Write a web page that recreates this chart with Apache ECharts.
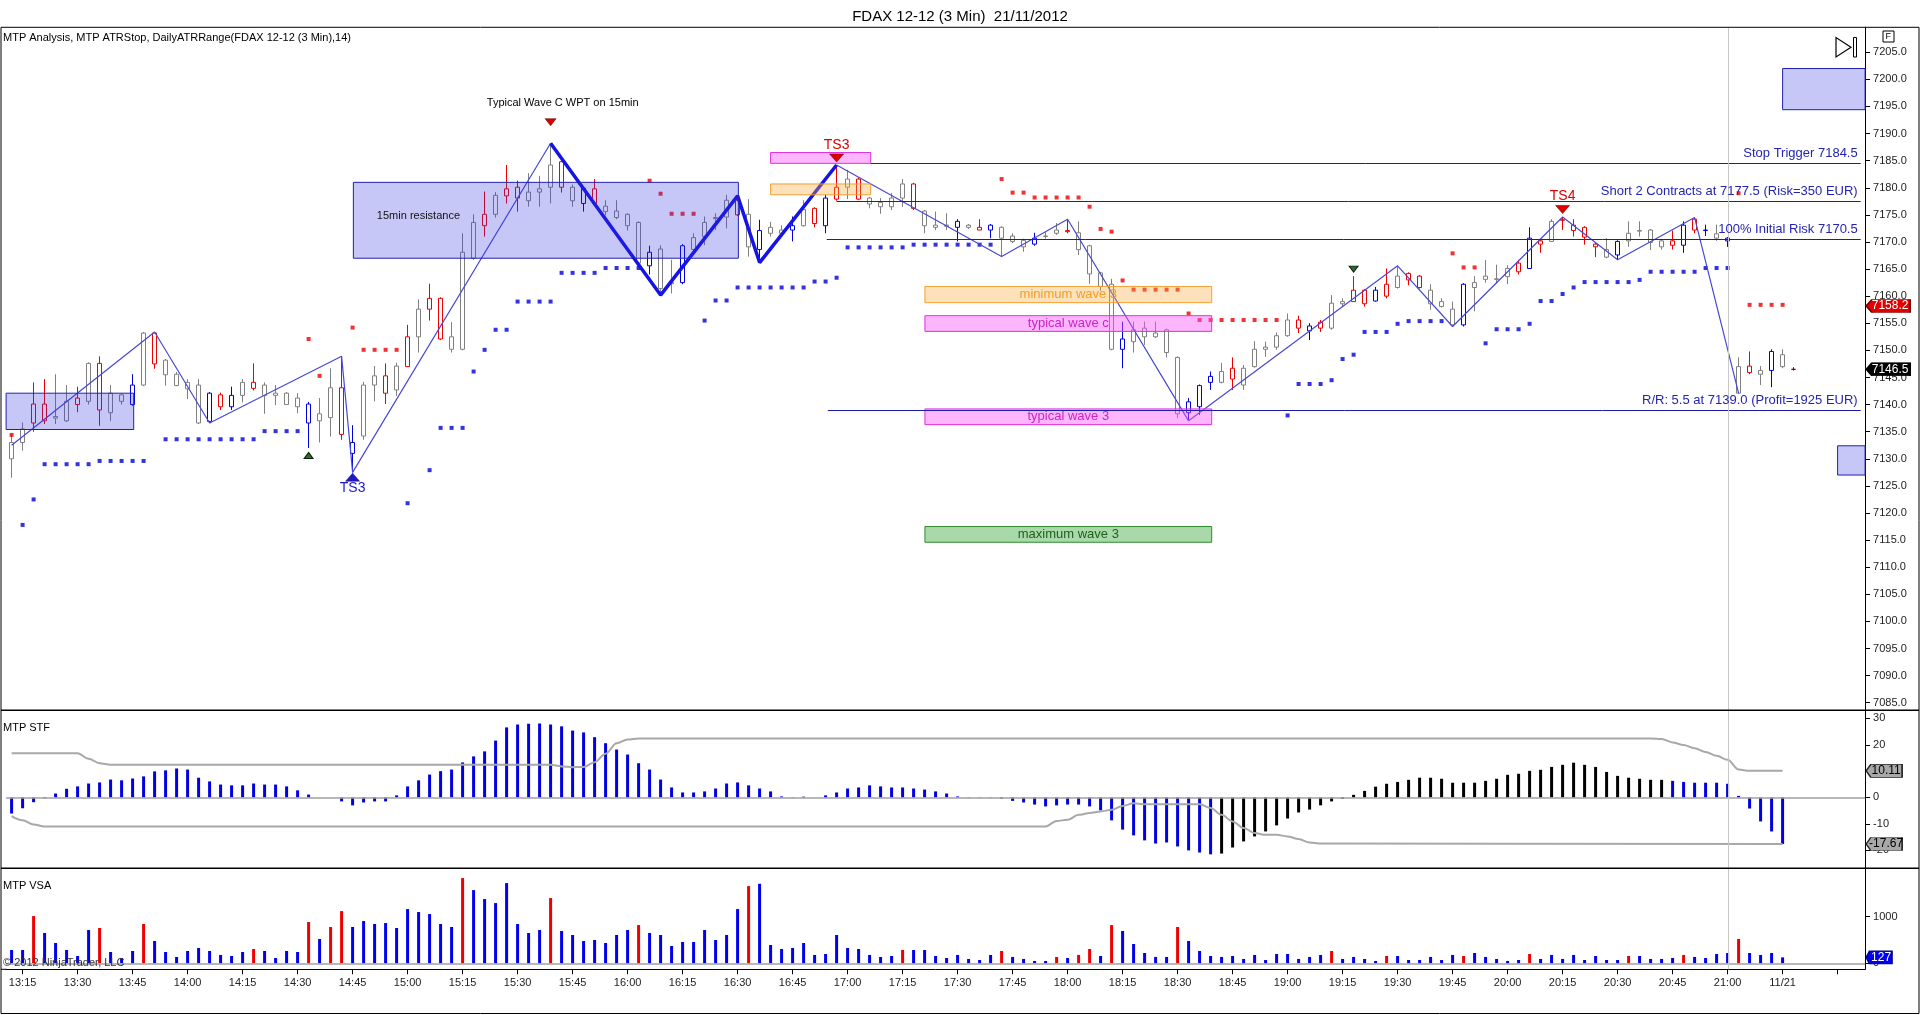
<!DOCTYPE html>
<html>
<head>
<meta charset="utf-8">
<title>FDAX 12-12 (3 Min) 21/11/2012</title>
<script src="https://cdn.jsdelivr.net/npm/echarts@6.0.0/dist/echarts.min.js"></script>
<style>
html,body{margin:0;padding:0;background:#fff;}
#chart{width:1920px;height:1015px;}
</style>
</head>
<body>
<div id="chart"></div>
<script>
// 3 min bars starting 13:12, axis runs a few empty slots past the last bar
var firstMinute = 13 * 60 + 12;
var slotCount = 169;

var opens = [
7130,7133,7136.6,7140.1,7137.5,7137,7141.2,7140.6,7147.6,7138.5,
7141.8,7140,7143.6,7153.2,7148.2,7145.6,7144.1,7143.6,7136.9,7141.8,
7139.6,7141.7,7144.1,7143.6,7141.7,7142.1,7141.2,7140.1,7137,7137.6,
7143.1,7131,7134.2,7143.6,7145.3,7142.7,7147,7152.5,7157.6,7159.6,
7152.5,7150.2,7167,7173,7175.1,7178.5,7180.1,7177.6,7179.2,7180.1,
7184.8,7180.1,7177.1,7179.8,7176.6,7175.7,7175.1,7173.6,7165.6,7168.7,
7162.3,7162.5,7168.6,7171,7174.3,7174.6,7177.7,7175.1,7168.6,7172.7,
7172.2,7172.2,7173,7176.2,7173,7177.9,7180.1,7181.6,7178.1,7177.3,
7176.5,7178.1,7180.7,7175.7,7173.1,7172.9,7172.7,7173.1,7172.7,7172.2,
7172.7,7171.1,7170.3,7169.6,7171.0,7171.6,7172.1,7171.7,7169.3,7164.3,
7162.2,7150.2,7151.6,7154.1,7152.5,7153.8,7148.7,7138.5,7139.6,7144.1,
7144.1,7146.7,7143.6,7147,7150.2,7150.6,7152.7,7155.6,7153.6,7155.2,
7154.1,7158.6,7159,7161.1,7159.1,7160,7161.6,7164.2,7163.7,7161.1,
7159,7157.6,7154.7,7161.6,7163.1,7163.1,7163.6,7166.1,7165.1,7170.2,
7170.1,7174.1,7173.1,7172.7,7169.6,7168.6,7167.6,7170.2,7172.0,7172.2,
7169.1,7170.2,7169.4,7174.2,7172.1,7171.5,7170.2,7142.1,7147.1,7146.3,
7146.3,7149.2,7146.5
];
var closes = [
7133,7135.5,7140.1,7137,7137.8,7140.6,7140,7147.6,7139,7142.1,
7140.6,7143.6,7153.2,7147.5,7145.5,7143.5,7142.9,7136.6,7142.1,7139.6,
7141.7,7144.1,7143,7141.7,7142.1,7140,7139.6,7136.6,7138.3,7143.1,
7134.5,7133,7143.6,7145.3,7142.1,7147.1,7152.5,7157.6,7159.6,7152.1,
7150.2,7168.1,7173.6,7175.1,7178.6,7179.8,7178.1,7179.2,7179.8,7184.2,
7180.1,7177.6,7179.9,7177.1,7175.6,7174.5,7173,7166.1,7168.1,7161.4,
7162.5,7169.3,7170.8,7173.6,7174.5,7177.7,7175,7169.1,7172.1,7171.6,
7171.6,7173,7176,7173.4,7178.1,7180.1,7181.6,7177.9,7177,7176.5,
7178.1,7180.7,7176.2,7173,7172.7,7173.1,7173.8,7172.7,7172.2,7173.1,
7170.7,7170.1,7169.1,7170.7,7171.1,7172.2,7171.9,7168.6,7164.1,7161.8,
7150.2,7152.1,7153.8,7152.5,7153.2,7149.6,7138.3,7140.5,7143.5,7145.2,
7146.1,7144.7,7146.7,7150.2,7150.6,7152.7,7155.6,7154.1,7154.5,7154.1,
7158.7,7159,7161.1,7158.6,7161.1,7162.2,7163.7,7163,7161.6,7158.6,
7158.1,7154.7,7162.2,7162.5,7163.7,7163.2,7165.1,7164.5,7170.7,7169.6,
7173.8,7174.0,7172.1,7170.9,7169.1,7167.2,7170.1,7171.6,7172.1,7169.9,
7170.2,7169.4,7173.1,7172.2,7172.2,7170.7,7170.7,7147,7145.9,7145.6,
7149.8,7147,7146.5
];
var lows = [
7126.5,7131.5,7135,7136.4,7136.4,7136.8,7138.6,7140,7136.1,7137,
7140,7139.8,7143.4,7146.6,7143.5,7143.4,7141,7136.4,7136.6,7139,
7139,7140.4,7142.6,7138.3,7139.9,7140,7138.4,7132,7133,7134.1,
7133.5,7127.5,7133.5,7140.6,7140.1,7141.6,7147,7149.6,7155.5,7151.9,
7149.6,7150,7166.7,7171,7174.5,7177.1,7175.6,7176.5,7176.5,7177.1,
7179.1,7176.5,7175.6,7176.8,7174.9,7174.2,7172.1,7165.5,7164,7160.2,
7160.5,7162.2,7168,7169.4,7172.2,7172.5,7174.8,7167.3,7166.2,7171,
7171,7170.1,7172.8,7172.7,7171.6,7177.6,7177.9,7177.7,7176.2,7175.2,
7175.9,7176.5,7175.9,7171.6,7172.2,7172.2,7170.1,7172.4,7172.2,7170.7,
7167.3,7169.8,7168.2,7169.3,7170.6,7171.3,7171.6,7167.6,7162.3,7161,
7150,7146.7,7149.6,7151,7152.3,7148.7,7137.5,7137.0,7138.1,7142.7,
7143.9,7142.7,7142.7,7146.8,7148.8,7150.1,7152.5,7153.2,7151.9,7153.4,
7153.8,7158,7159,7158.1,7159,7159.6,7161.4,7162,7161.4,7157.5,
7157.9,7154.4,7154.4,7157.2,7162.5,7162.3,7162.2,7164,7165,7168,
7170,7172.2,7171,7169.5,7167.2,7167,7166.7,7169.1,7171,7168.5,
7168.6,7168.6,7168,7171.6,7171.1,7170.2,7169.1,7142,7145.6,7143.6,
7143.2,7146.7,7146.3
];
var highs = [
7134.5,7136.7,7144.1,7144.7,7145.6,7143.6,7143.3,7147.8,7148.9,7143.6,
7142,7145.6,7153.4,7153.4,7148.4,7146,7144.7,7144.7,7142.3,7142.2,
7143.3,7144.7,7147.6,7144.1,7143.6,7142.3,7142.1,7140.5,7141.2,7146.7,
7148.9,7136.2,7144.2,7147.1,7147.6,7147.7,7154.7,7159.4,7162.3,7159.8,
7155.2,7171.6,7175.1,7179.3,7179.2,7184.2,7181.3,7182.7,7182.2,7188.2,
7185,7180.6,7180.1,7181.6,7177.7,7177.7,7175.3,7173.8,7169.3,7169.4,
7166.7,7169.6,7171.6,7174.7,7175.3,7178.7,7178.5,7177.9,7174.1,7173.7,
7173.1,7174.7,7177.7,7176.4,7178.7,7184.2,7183.3,7181.8,7178.3,7178.1,
7179,7181.6,7180.9,7175.9,7175.6,7175.3,7174.2,7173.3,7174.2,7173.3,
7172.9,7171.6,7170.6,7171.7,7171.8,7173.5,7174.2,7173.8,7169.5,7164.5,
7163.2,7155.3,7155.3,7155.3,7155.3,7154,7148.9,7141.2,7143.7,7146.1,
7147.7,7148.7,7147.3,7151.7,7151.6,7153.3,7156.8,7156.4,7155,7155.6,
7160.2,7159.6,7163.7,7161.3,7161.7,7165.1,7165.6,7164.4,7163.9,7162.2,
7159.6,7159,7162.4,7163.7,7166.7,7165.8,7165.7,7166.7,7172.7,7170.5,
7174.2,7174.6,7174.2,7172.9,7169.8,7170.7,7170.3,7173.8,7173.8,7172.4,
7170.6,7172.1,7173.8,7174.5,7173.2,7173.2,7170.9,7148.7,7149.8,7147.1,
7150.2,7150.2,7146.9
];
// g gray, r red, b blue, k last tick
var candleColors = (
  'ggrrggrgrg' + 'gbgrggggbr' + 'bgrggggbgg' + 'rbggrgrgrr' + 'gggrgrrggg' +
  'rgbrggggbg' + 'gbggggrgbg' + 'gbgrbrgrgg' + 'ggrgggbgrb' + 'gggbggrggg' +
  'gbgggggbbb' + 'grgggggrbr' + 'ggrrbrgrrg' + 'ggbggggrbr' + 'grrrrgbggg' +
  'grbrbgbgrg' + 'bgk').split('');

// ATR stop dots [bar, price]
var stopRed = [
[0,7134.4],[27,7152.1],[28,7145.3],[31,7154.2],[32,7150.1],[33,7150.1],[34,7150.1],[35,7150.1],
[58,7181.3],[59,7178.9],[60,7175.2],[61,7175.2],[62,7175.2],
[90,7181.6],[91,7179.1],[92,7179.1],[93,7178.2],[94,7178.2],[95,7178.2],[96,7178.2],[97,7178.2],
[98,7176.5],[99,7172.4],[100,7171.9],[101,7162.9],[102,7161.2],[103,7161.2],[104,7161.2],[105,7161.2],[106,7161.2],
[107,7156.8],[108,7155.6],[109,7155.6],[110,7155.6],[111,7155.6],[112,7155.6],[113,7155.6],[114,7155.6],[115,7155.6],
[131,7167.9],[132,7165.3],[133,7165.3],[157,7179],[158,7158.4],[159,7158.4],[160,7158.4],[161,7158.4]
];
var stopBlue = [
[1,7117.8],[2,7122.5],[3,7129],[4,7129],[5,7129],[6,7129],[7,7129],[8,7129.6],[9,7129.6],[10,7129.6],[11,7129.6],[12,7129.6],
[14,7133.6],[15,7133.6],[16,7133.6],[17,7133.6],[18,7133.6],[19,7133.6],[20,7133.6],[21,7133.6],[22,7133.6],
[23,7135.1],[24,7135.1],[25,7135.1],[26,7135.1],[36,7121.8],[38,7127.9],[39,7135.7],[40,7135.7],[41,7135.7],
[42,7146.1],[43,7150.1],[44,7153.8],[45,7153.8],[46,7159],[47,7159],[48,7159],[49,7159],
[50,7164.3],[51,7164.3],[52,7164.3],[53,7164.3],[54,7165.2],[55,7165.2],[56,7165.2],[57,7165.2],
[63,7155.5],[64,7159.2],[65,7159.2],[66,7161.6],[67,7161.6],[68,7161.6],[69,7161.6],[70,7161.6],[71,7161.6],[72,7161.6],
[73,7162.7],[74,7162.7],[75,7163.4],[76,7169],[77,7169],[78,7169],[79,7169],[80,7169],[81,7169],
[82,7169.5],[83,7169.5],[84,7169.5],[85,7169.5],[86,7169.5],[87,7169.5],[88,7169.5],[89,7169.5],
[116,7138],[117,7143.8],[118,7143.8],[119,7143.8],[120,7144.5],[121,7148.4],[122,7149.2],
[123,7153.4],[124,7153.4],[125,7153.4],[126,7154.9],[127,7155.4],[128,7155.4],[129,7155.4],[130,7155.4],
[134,7151.3],[135,7153.9],[136,7153.9],[137,7153.9],[138,7154.9],[139,7159.1],[140,7159.1],[141,7160.4],[142,7161.6],
[143,7162.6],[144,7162.6],[145,7162.6],[146,7162.6],[147,7162.6],[148,7163],
[149,7164.5],[150,7164.5],[151,7164.5],[152,7164.5],[153,7164.5],[154,7165.2],[155,7165.2],[156,7165.2]
];

// zigzag pivots; segment leaving a pivot is bold when pivotBold is 1
var pivotIdx  = [0, 13, 18, 30, 31, 49, 59, 66, 68, 75, 90, 96, 107, 126, 131, 141, 146, 153, 157];
var pivotVal  = [7132.5, 7153.4, 7136.6, 7148.9, 7127.5, 7188.2, 7160.2, 7178.5, 7166.2, 7184.2,
                 7167.3, 7174.2, 7137.0, 7165.6, 7154.4, 7174.6, 7166.7, 7174.5, 7142.1];
var pivotBold = [0, 0, 0, 0, 0, 1, 1, 1, 1, 0, 0, 0, 0, 0, 0, 0, 0, 0, 0];

// zones: bar index span and price span
var boxLeft  = [-0.5, 31.07, 69.0, 69.0, 83.03, 83.03, 83.03, 83.03, 161.0, 166.0];
var boxRight = [11.1, 66.07, 78.1, 78.1, 109.1, 109.1, 109.1, 109.1, 168.5, 168.5];
var boxLow   = [7135.4, 7167, 7184.5, 7178.7, 7158.8, 7153.5, 7136.3, 7114.6, 7194.4, 7127];
var boxHigh  = [7142.1, 7181, 7186.5, 7180.7, 7161.8, 7156.4, 7139.2, 7117.5, 7202, 7132.4];
var boxKind  = ['lav', 'lav', 'pink', 'orange', 'orange', 'pink', 'pink', 'green', 'lav', 'lav'];
var boxText  = ['', '15min resistance', '', '', 'minimum wave 3', 'typical wave c', 'typical wave 3', 'maximum wave 3', '', ''];

// trade levels
var levelPrice = [7184.5, 7177.5, 7170.5, 7139.0];
var levelFrom  = [78.1, 75.0, 74.1, 74.2];
var levelTo = 168.1;
var levelText  = ['Stop Trigger 7184.5', 'Short 2 Contracts at 7177.5 (Risk=350 EUR)',
                  '100% Initial Risk 7170.5', 'R/R: 5.5 at 7139.0 (Profit=1925 EUR)'];

// signal markers
var markIdx   = [49, 75, 31, 141, 122, 27];
var markPrice = [7192.1, 7185.5, 7126.6, 7176.0, 7165.0, 7130.6];
var markDir   = ['down', 'down', 'up', 'down', 'down', 'up'];
var markKind  = ['red', 'red', 'blue', 'red', 'green', 'green'];
var noteIdx   = [50.1, 75, 31, 141];
var notePrice = [7195.7, 7187.9, 7124.6, 7178.4];
var noteText  = ['Typical Wave C WPT on 15min', 'TS3', 'TS3', 'TS4'];
var noteKind  = ['black', 'red', 'blue', 'red'];

var lastPrice = 7146.5;
var stopLevel = 7158.2;

// MTP STF
var stf = [
-6.1,-4.1,-1.8,-0.3,1.5,3.3,4.2,5.3,5.7,6.8,
6.5,7.2,8.0,9.9,10.3,11.0,10.6,7.5,6.1,4.9,
4.6,4.6,5.3,4.9,4.9,4.2,2.7,1.1,0,0,
-1.5,-3.0,-1.9,-1.5,-1.5,0.8,4.2,6.5,8.7,10.0,
10.6,13.3,15.6,17.5,21.6,26.6,27.7,28.0,28.1,27.7,
27.0,25.4,24.7,22.9,20.6,18.2,16.3,13.0,10.6,6.8,
3.8,1.9,1.9,2.3,3.4,5.3,5.7,4.6,3.4,2.3,
0.4,0.1,0.3,0,0.8,1.9,3.4,3.8,4.6,4.2,
3.8,3.8,3.4,3.0,2.3,1.5,0.4,0.1,0.1,0.1,
-0.4,-1.3,-1.9,-2.7,-3.4,-3.0,-2.7,-2.7,-3.4,-4.9,
-8.7,-12.2,-14.4,-16.3,-17.5,-17.1,-18.6,-20.1,-20.9,-21.6,
-21.3,-19.0,-16.7,-14.8,-12.9,-10.6,-8.0,-5.7,-4.6,-3.0,
-1.5,-0.5,1.0,2.5,4.1,5.2,5.9,6.7,7.5,7.5,
7.1,5.6,5.6,5.6,6.3,7.1,8.6,9.0,10.1,10.5,
11.6,12.4,13.2,12.4,11.6,9.7,8.2,7.5,7.1,6.7,
6.7,6.3,5.9,5.6,5.6,5.6,5.2,0.6,-4.2,-9.1,
-12.9,-17.67
];
var stfBlackFrom = 110, stfBlackTo = 150;
var stfUpperIdx = [0, 6, 7, 8, 9, 49, 50, 51, 52, 53, 54, 55, 56, 57, 149, 150, 151, 152, 153, 154, 155, 156, 157, 158, 161];
var stfUpperVal = [16.8, 16.8, 14.7, 13.0, 12.4, 12.4, 11.8, 11.5, 11.6, 13.4, 16.6, 20.6, 22.0, 22.4, 22.4,
                   22.2, 20.9, 19.9, 18.7, 17.3, 15.8, 14.3, 10.6, 10.11, 10.11];
var stfLowerIdx = [0, 1, 2, 3, 94, 95, 96, 97, 98, 99, 100, 101, 102, 103, 108, 109, 110, 111, 112, 113,
                   114, 115, 116, 117, 118, 119, 161];
var stfLowerVal = [-7.1, -8.7, -10.3, -11, -11, -8.9, -8.5, -6.6, -5.9, -5.3, -4.7, -3.2, -2.2, -2.6, -2.6,
                   -4, -6.6, -9.1, -11.6, -13.5, -14.2, -14.2, -14.8, -15.8, -17.1, -17.5, -17.67];

// MTP VSA
var vsa = [
286,286,1014,650,436,286,157,714,757,243,
114,264,843,479,243,136,264,329,264,179,
157,243,307,264,114,264,243,886,521,779,
1121,779,907,843,864,757,1164,1100,1057,843,
779,1829,1571,1379,1293,1721,843,650,714,1400,
693,607,479,500,436,607,714,821,650,607,
371,457,457,714,500,607,1164,1657,1707,393,
307,329,436,179,200,607,329,307,179,136,
157,286,286,286,157,114,179,93,71,179,
264,136,93,50,50,136,114,179,307,157,
821,693,414,221,136,136,779,479,264,157,
136,157,93,179,71,200,200,93,136,179,
264,93,136,93,50,157,157,71,71,136,
71,179,157,221,136,93,50,71,200,93,
179,93,179,71,157,71,71,157,157,93,
93,114,179,136,114,200,221,521,221,179,
221,127
];
var vsaRedIdx = [2,8,12,22,27,29,30,41,49,57,67,81,90,95,97,98,100,106,120,125,132,138,147,152,157];

var priceTicks = [7085,7090,7095,7100,7105,7110,7115,7120,7125,7130,7135,7140,7145,7150,7155,7160,
                  7165,7170,7175,7180,7185,7190,7195,7200,7205];
var stfTicks = [-20, -10, 0, 10, 20, 30];
var vsaTicks = [0, 1000];
var sessionLineIdx = 156.05;

// ---------- build ----------
var times = [];
for (var k = 0; k < slotCount; k++) {
  var m = firstMinute + 3 * k;
  var mm = m % 60;
  times.push(Math.floor(m / 60) + ':' + (mm < 10 ? '0' : '') + mm);
}
var labelSwap = {'21:15': '11/21', '21:30': ''};

var palette = {g: '#808080', r: '#ee0000', b: '#0000dd', k: '#800000'};
var candles = [];
for (var i = 0; i < opens.length; i++) {
  var c = palette[candleColors[i]];
  candles.push({
    value: [opens[i], closes[i], lows[i], highs[i]],
    itemStyle: {color: '#ffffff', color0: c, borderColor: c, borderColor0: c, borderColorDoji: c, borderWidth: 1}
  });
}

function pivotLine(bold) {
  var out = [];
  for (var p = 0; p < pivotIdx.length - 1; p++) {
    if (pivotBold[p] === bold) {
      out.push([pivotIdx[p], pivotVal[p]]);
      out.push([pivotIdx[p + 1], pivotVal[p + 1]]);
    } else {
      out.push(null);
    }
  }
  var clean = [];
  for (var q = 0; q < out.length; q++) {
    if (out[q] === null) { if (clean.length && clean[clean.length - 1] !== '-') clean.push('-'); continue; }
    var last = clean[clean.length - 1];
    if (last && last !== '-' && last[0] === out[q][0]) continue;
    clean.push(out[q]);
  }
  return clean;
}

function pairs(ix, vals) {
  var out = [];
  for (var j = 0; j < ix.length; j++) out.push([ix[j], vals[j]]);
  return out;
}

var stfBars = stf.map(function (v, j) {
  var black = j >= stfBlackFrom && j <= stfBlackTo;
  return {value: v, itemStyle: {color: black ? '#000000' : '#0000e0'}};
});
var vsaBars = vsa.map(function (v, j) {
  return {value: v, itemStyle: {color: vsaRedIdx.indexOf(j) >= 0 ? '#ee0000' : '#0000ee'}};
});

var boxStyles = {
  lav:    {fill: 'rgba(48,48,224,0.27)', line: '#2020b0', text: '#111111'},
  pink:   {fill: 'rgba(250,80,250,0.42)', line: '#e030e0', text: '#cc22cc'},
  orange: {fill: 'rgba(250,170,60,0.35)', line: '#f0a030', text: '#eda026'},
  green:  {fill: 'rgba(40,160,40,0.40)', line: '#2e8b2e', text: '#1e5e1e'}
};
var areaData = [];
for (var b = 0; b < boxLeft.length; b++) {
  var st = boxStyles[boxKind[b]];
  var lbl = {show: false};
  if (boxText[b]) {
    if (boxKind[b] === 'lav') {
      lbl = {show: true, formatter: boxText[b], position: 'insideLeft', offset: [19, -4], color: st.text, fontSize: 11};
    } else {
      lbl = {show: true, formatter: boxText[b], position: 'inside', color: st.text, fontSize: 13};
    }
  }
  areaData.push([
    {coord: [boxLeft[b], boxLow[b]], itemStyle: {color: st.fill, borderColor: st.line, borderWidth: 1}, label: lbl},
    {coord: [boxRight[b], boxHigh[b]]}
  ]);
}

var lineData = [];
for (var l = 0; l < levelPrice.length; l++) {
  lineData.push([
    {coord: [levelFrom[l], levelPrice[l]], label: {show: true, formatter: levelText[l], position: 'insideEndTop',
      color: '#2424b4', fontSize: 13, distance: 3}},
    {coord: [levelTo, levelPrice[l]]}
  ]);
}
lineData.push({xAxis: sessionLineIdx, lineStyle: {color: '#c8c8c8', width: 1}, label: {show: false}});

var markColors = {red: '#dd0000', blue: '#1a1ad0', green: '#2e6b2e', black: '#000000'};
var pointData = [];
for (var t = 0; t < markIdx.length; t++) {
  var small = markKind[t] === 'green';
  pointData.push({
    coord: [markIdx[t], markPrice[t]], symbol: 'triangle',
    symbolSize: small ? [9, 6] : (t === 0 ? [11, 7] : [14, 8]),
    symbolRotate: markDir[t] === 'down' ? 180 : 0,
    itemStyle: {color: markColors[markKind[t]], borderColor: small ? '#102010' : '#500000', borderWidth: small ? 1 : 0.5},
    label: {show: false}
  });
}
for (var n = 0; n < noteIdx.length; n++) {
  pointData.push({
    coord: [noteIdx[n], notePrice[n]], symbol: 'rect', symbolSize: 1,
    itemStyle: {color: 'rgba(0,0,0,0)'},
    label: {show: true, position: 'inside', formatter: noteText[n], color: markColors[noteKind[n]],
      fontSize: noteKind[n] === 'black' ? 11 : 14}
  });
}

var tagPath = 'path://M0,6L6,0L46,0L46,12L6,12Z';
function badge(val, text, w, fill, border, color) {
  return {
    coord: [168.5, val], symbol: tagPath, symbolSize: [w, 13], symbolKeepAspect: false,
    symbolOffset: [w / 2 + 1, 0],
    itemStyle: {color: fill, borderColor: border, borderWidth: 1},
    label: {show: true, position: 'inside', formatter: text, color: color, fontSize: 12, offset: [2, 0]}
  };
}
pointData.push(badge(stopLevel, stopLevel.toFixed(1), 44, '#e00000', '#700000', '#ffffff'));
pointData.push(badge(lastPrice, lastPrice.toFixed(1), 44, '#000000', '#000000', '#ffffff'));

function yAxisBase(grid, min, max, ticks, fmt) {
  return {
    type: 'value', gridIndex: grid, position: 'right', min: min, max: max, scale: true,
    axisLine: {show: true, onZero: false, lineStyle: {color: '#000', width: 1}},
    axisTick: {show: true, inside: false, length: 5, lineStyle: {color: '#000'}, customValues: ticks},
    axisLabel: {show: true, color: '#222', fontSize: 11, margin: 8, customValues: ticks, formatter: fmt},
    splitLine: {show: false}
  };
}

var hiddenCat = function (grid) {
  return {type: 'category', gridIndex: grid, data: times, boundaryGap: true, show: false};
};
var hiddenVal = function (grid) {
  return {type: 'value', gridIndex: grid, min: -0.5, max: 168.5, show: false,
    axisLine: {onZero: false}, splitLine: {show: false}};
};

var tickEvery = function (idx) { return idx % 5 === 1; };

var option = {
  animation: false,
  backgroundColor: '#ffffff',
  textStyle: {fontFamily: 'Liberation Sans, Arial, sans-serif'},
  title: {
    text: 'FDAX 12-12 (3 Min)  21/11/2012', left: 'center', top: 4,
    textStyle: {fontSize: 15, fontWeight: 'normal', color: '#000'}
  },
  grid: [
    {left: 6.1, right: 54.9, top: 27.3, height: 683},
    {left: 6.1, right: 54.9, top: 710.3, height: 158},
    {left: 6.1, right: 54.9, top: 868.3, height: 101}
  ],
  xAxis: [
    hiddenCat(0), hiddenCat(1),
    {
      type: 'category', gridIndex: 2, data: times, boundaryGap: true,
      axisLine: {show: true, onZero: false, lineStyle: {color: '#000'}},
      axisTick: {show: true, alignWithLabel: true, interval: tickEvery, length: 5, lineStyle: {color: '#000'}},
      axisLabel: {
        interval: tickEvery, color: '#222', fontSize: 11, margin: 8,
        formatter: function (v) { return labelSwap.hasOwnProperty(v) ? labelSwap[v] : v; }
      }
    },
    hiddenVal(0), hiddenVal(1), hiddenVal(2)
  ],
  yAxis: [
    yAxisBase(0, 7083.6, 7209.6, priceTicks, function (v) { return v.toFixed(1); }),
    yAxisBase(1, -26.9, 33.1, stfTicks, function (v) { return String(v); }),
    yAxisBase(2, -128.8, 2038.6, vsaTicks, function (v) { return String(v); })
  ],
  graphic: [
    {type: 'polyline', silent: true, z: 100, shape: {points: [[1, 27.3], [1, 1013.5], [1919, 1013.5], [1919, 27.3]]},
      style: {stroke: '#000', lineWidth: 1, fill: null}},
    {type: 'line', silent: true, z: 100, shape: {x1: 1, y1: 27.3, x2: 1919, y2: 27.3}, style: {stroke: '#000', lineWidth: 1}},
    {type: 'line', silent: true, z: 100, shape: {x1: 1, y1: 710.3, x2: 1919, y2: 710.3}, style: {stroke: '#000', lineWidth: 1.5}},
    {type: 'line', silent: true, z: 100, shape: {x1: 1, y1: 868.3, x2: 1919, y2: 868.3}, style: {stroke: '#000', lineWidth: 1.5}},
    {type: 'line', silent: true, z: 100, shape: {x1: 1, y1: 969.3, x2: 7, y2: 969.3}, style: {stroke: '#000', lineWidth: 1}},
    {type: 'text', silent: true, left: 3, top: 32, style: {text: 'MTP Analysis, MTP ATRStop, DailyATRRange(FDAX 12-12 (3 Min),14)',
      fill: '#000', font: '11px Liberation Sans, Arial, sans-serif'}},
    {type: 'text', silent: true, left: 3, top: 722, style: {text: 'MTP STF', fill: '#000', font: '11px Liberation Sans, Arial, sans-serif'}},
    {type: 'text', silent: true, left: 3, top: 880, style: {text: 'MTP VSA', fill: '#000', font: '11px Liberation Sans, Arial, sans-serif'}},
    {type: 'text', silent: true, left: 3, top: 957, z: 50, style: {text: '\u00a9 2012 NinjaTrader, LLC', fill: '#333', font: '11px Liberation Sans, Arial, sans-serif'}},
    {type: 'rect', silent: true, shape: {x: 1883, y: 31, width: 11, height: 11}, style: {stroke: '#000', fill: '#fff', lineWidth: 1}},
    {type: 'text', silent: true, left: 1885.5, top: 32, style: {text: 'F', fill: '#000', font: '9px Liberation Sans, Arial, sans-serif'}},
    {type: 'polygon', silent: true, shape: {points: [[1836, 37.5], [1836, 57], [1851, 47.2]]}, style: {stroke: '#000', fill: '#fff', lineWidth: 1.2}},
    {type: 'rect', silent: true, shape: {x: 1853.5, y: 37.5, width: 3, height: 19.5}, style: {stroke: '#000', fill: '#fff', lineWidth: 1}}
  ],
  series: [
    {
      name: 'FDAX', type: 'candlestick', xAxisIndex: 0, yAxisIndex: 0, barWidth: 5, z: 2,
      data: candles
    },
    {
      name: 'ATR stop short', type: 'scatter', xAxisIndex: 0, yAxisIndex: 0, symbol: 'rect', symbolSize: 4, z: 3,
      itemStyle: {color: '#ee0000'}, data: stopRed
    },
    {
      name: 'ATR stop long', type: 'scatter', xAxisIndex: 0, yAxisIndex: 0, symbol: 'rect', symbolSize: 4, z: 3,
      itemStyle: {color: '#0000dd'}, data: stopBlue
    },
    {
      name: 'zigzag', type: 'line', xAxisIndex: 0, yAxisIndex: 0, symbol: 'none', z: 4, connectNulls: false,
      lineStyle: {color: '#4848d8', width: 1.2}, data: pivotLine(0)
    },
    {
      name: 'zigzag bold', type: 'line', xAxisIndex: 0, yAxisIndex: 0, symbol: 'none', z: 4,
      lineStyle: {color: '#1414e6', width: 3.5}, data: pivotLine(1)
    },
    {
      name: 'price notes', type: 'line', xAxisIndex: 3, yAxisIndex: 0, z: 5, symbol: 'none', data: [],
      markArea: {silent: true, z: 5, data: areaData},
      markLine: {silent: true, symbol: ['none', 'none'], precision: 2,
        lineStyle: {color: '#1c1ca8', width: 1, type: 'solid'}, data: lineData},
      markPoint: {silent: true, data: pointData}
    },
    {
      name: 'MTP STF', type: 'bar', xAxisIndex: 1, yAxisIndex: 1, barWidth: 3, z: 2, data: stfBars
    },
    {
      name: 'STF upper', type: 'line', xAxisIndex: 1, yAxisIndex: 1, symbol: 'none', smooth: 0.35, smoothMonotone: 'x',
      lineStyle: {color: '#a8a8a8', width: 2}, data: pairs(stfUpperIdx, stfUpperVal)
    },
    {
      name: 'STF lower', type: 'line', xAxisIndex: 1, yAxisIndex: 1, symbol: 'none', smooth: 0.35, smoothMonotone: 'x',
      lineStyle: {color: '#a8a8a8', width: 2}, data: pairs(stfLowerIdx, stfLowerVal)
    },
    {
      name: 'STF notes', type: 'line', xAxisIndex: 4, yAxisIndex: 1, symbol: 'none', data: [], z: 5,
      markLine: {silent: true, symbol: ['none', 'none'], label: {show: false},
        data: [
          {yAxis: 0, lineStyle: {color: '#a0a0a0', width: 1.5, type: 'solid'}},
          {xAxis: sessionLineIdx, lineStyle: {color: '#c8c8c8', width: 1, type: 'solid'}}
        ]},
      markPoint: {silent: true, data: [
        badge(stfUpperVal[stfUpperVal.length - 1], '10.11', 36, '#a8a8a8', '#222222', '#000000'),
        badge(stf[stf.length - 1], '-17.67', 36, '#a8a8a8', '#222222', '#000000')
      ]}
    },
    {
      name: 'MTP VSA', type: 'bar', xAxisIndex: 2, yAxisIndex: 2, barWidth: 3, z: 2, data: vsaBars
    },
    {
      name: 'VSA notes', type: 'line', xAxisIndex: 5, yAxisIndex: 2, symbol: 'none', data: [], z: 5,
      markLine: {silent: true, symbol: ['none', 'none'], label: {show: false},
        data: [
          {yAxis: 0, lineStyle: {color: '#a0a0a0', width: 1.5, type: 'solid'}},
          {xAxis: sessionLineIdx, lineStyle: {color: '#c8c8c8', width: 1, type: 'solid'}}
        ]},
      markPoint: {silent: true, data: [
        badge(vsa[vsa.length - 1], String(vsa[vsa.length - 1]), 26, '#0000ee', '#000080', '#ffffff')
      ]}
    }
  ]
};

var chart = echarts.init(document.getElementById('chart'));
chart.setOption(option);
</script>
</body>
</html>
